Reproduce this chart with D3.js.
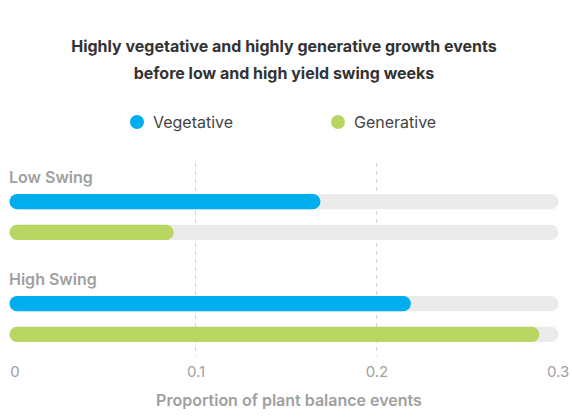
<!DOCTYPE html>
<html>
<head>
<meta charset="utf-8">
<script src="https://cdn.jsdelivr.net/npm/d3@7"></script>
<style>
  body { margin: 0; background: #fff; }
  text { font-family: Inter, "Noto Sans", sans-serif; }
</style>
</head>
<body>
<div id="chart-area"></div>
<script>
// Datos
const groups = ["Low Swing", "High Swing"];
const series = ["Vegetative", "Generative"];
const vegetative = [0.169, 0.219];
const generative = [0.088, 0.290];
const ticks = [0, 0.1, 0.2, 0.3];
const colors = ["#00adef", "#b8d661"];

const width = 572;
const height = 418;

const svg = d3.select("#chart-area")
    .append("svg")
    .attr("width", width)
    .attr("height", height);

// Titulo
svg.append("text")
    .attr("x", 284)
    .attr("y", 51.5)
    .attr("text-anchor", "middle")
    .attr("font-size", "16px")
    .attr("font-weight", "700")
    .attr("fill", "#333")
    .text("Highly vegetative and highly generative growth events");
svg.append("text")
    .attr("x", 284)
    .attr("y", 78.5)
    .attr("text-anchor", "middle")
    .attr("font-size", "16px")
    .attr("font-weight", "700")
    .attr("fill", "#333")
    .text("before low and high yield swing weeks");

// Leyenda
const legendX = [137, 338];
const legend = svg.selectAll(".legend")
    .data(series)
    .enter()
    .append("g")
    .attr("class", "legend")
    .attr("transform", (d, i) => `translate(${legendX[i]},122)`);
legend.append("circle")
    .attr("r", 7)
    .attr("fill", (d, i) => colors[i]);
legend.append("text")
    .attr("x", 16)
    .attr("y", 6)
    .attr("font-size", "16px")
    .attr("fill", "#444")
    .text(d => d);

// Escalas
const x = d3.scaleLinear()
    .domain([0, 0.3])
    .range([14.5, 557.5]);

const barY = d3.scaleBand()
    .domain(series)
    .range([194, 240])
    .paddingInner(0.5);

// Grid
svg.append("g")
    .selectAll("line")
    .data(ticks.filter(t => t > 0 && t < 0.3))
    .enter()
    .append("line")
    .attr("x1", d => x(d))
    .attr("x2", d => x(d))
    .attr("y1", 163)
    .attr("y2", 356)
    .attr("stroke", "#d4d4d4")
    .attr("stroke-dasharray", "4,4");

// Eje X
const bottomAxis = d3.axisBottom(x)
    .tickValues(ticks)
    .tickFormat(d3.format("~g"))
    .tickSize(0)
    .tickPadding(0);
const axisG = svg.append("g")
    .attr("transform", "translate(0,366)")
    .call(bottomAxis);
axisG.select(".domain").remove();
axisG.selectAll("text")
    .attr("font-family", "Inter, sans-serif")
    .attr("font-size", "15px")
    .attr("fill", "#a0a0a0");

svg.append("text")
    .attr("x", 289)
    .attr("y", 406)
    .attr("text-anchor", "middle")
    .attr("font-size", "16px")
    .attr("font-weight", "600")
    .attr("fill", "#a0a0a0")
    .text("Proportion of plant balance events");

// Barras
const values = [vegetative, generative];
const offsets = [0, 102];
groups.forEach((g, gi) => {
    const gg = svg.append("g")
        .attr("transform", `translate(0,${offsets[gi]})`);

    gg.append("text")
        .attr("x", 9)
        .attr("y", 183)
        .attr("font-size", "16px")
        .attr("font-weight", "600")
        .attr("fill", "#a0a0a0")
        .text(g);

    gg.selectAll(".track")
        .data(series)
        .enter()
        .append("rect")
        .attr("class", "track")
        .attr("x", x(0) - 5)
        .attr("y", d => barY(d))
        .attr("width", x(0.3) + 1 - (x(0) - 5))
        .attr("height", barY.bandwidth())
        .attr("rx", barY.bandwidth() / 2)
        .attr("fill", "#ebebeb");

    gg.selectAll(".bar")
        .data(series)
        .enter()
        .append("rect")
        .attr("class", "bar")
        .attr("x", x(0) - 5)
        .attr("y", d => barY(d))
        .attr("width", (d, i) => x(values[i][gi]) - (x(0) - 5))
        .attr("height", barY.bandwidth())
        .attr("rx", barY.bandwidth() / 2)
        .attr("fill", (d, i) => colors[i]);
});
</script>
</body>
</html>
